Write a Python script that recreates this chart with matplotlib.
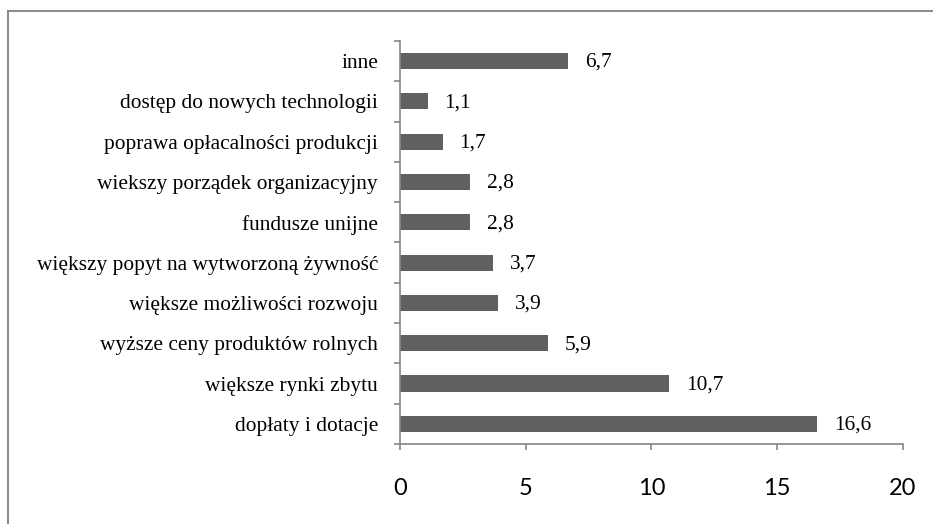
import matplotlib.pyplot as plt
from matplotlib.patches import Rectangle

categories = ['dopłaty i dotacje', 'większe rynki zbytu', 'wyższe ceny produktów rolnych',
              'większe możliwości rozwoju', 'większy popyt na wytworzoną żywność',
              'fundusze unijne', 'wiekszy porządek organizacyjny',
              'poprawa opłacalności produkcji', 'dostęp do nowych technologii', 'inne']
values = [16.6, 10.7, 5.9, 3.9, 3.7, 2.8, 2.8, 1.7, 1.1, 6.7]
x_ticks = [0, 5, 10, 15, 20]

axis_col = '#868686'
bar_col = '#606060'

fig = plt.figure(figsize=(9.33, 5.24), dpi=100)
ax = fig.add_axes([0.4287, 0.1527, 0.5391, 0.7691])

pos = list(range(len(categories)))
ax.barh(pos, values, height=0.4, color=bar_col)

for p, v in zip(pos, values):
    ax.annotate(f'{v:.1f}'.replace('.', ','), (v, p), xytext=(12, -1), textcoords='offset points',
                va='center', ha='left', fontsize=15.4, family='Liberation Serif')

ax.set_xlim(0, 20)
ax.set_ylim(-0.5, len(categories) - 0.5)
ax.set_xticks(x_ticks)
ax.set_xticklabels([str(t) for t in x_ticks], fontsize=17, family='Lato')
ax.set_yticks(pos)
ax.set_yticklabels(categories, fontsize=15.4, family='Liberation Serif')
ax.set_yticks([p - 0.5 for p in pos] + [len(pos) - 0.5], minor=True)

ax.tick_params(axis='y', which='major', length=0, pad=15.8)
ax.tick_params(axis='y', which='minor', length=4, color=axis_col, width=1.2, direction='out')
ax.tick_params(axis='x', length=4.5, color=axis_col, width=1.2, direction='out', pad=20)

for s in ['top', 'right']:
    ax.spines[s].set_visible(False)
for s in ['left', 'bottom']:
    ax.spines[s].set_color(axis_col)
    ax.spines[s].set_linewidth(1.2)

# outer frame
fig.patches.append(Rectangle((8 / 933, -0.1), 1.2, (513 / 524) + 0.1, transform=fig.transFigure,
                             fill=False, edgecolor='#8c8c8c', linewidth=1.5))

fig.savefig('out.png', dpi=100)
